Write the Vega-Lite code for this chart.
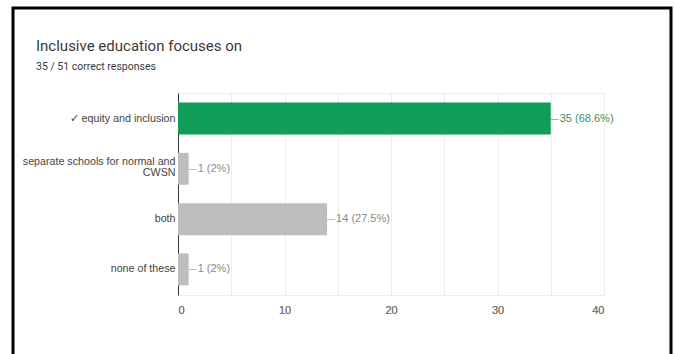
{
  "$schema": "https://vega.github.io/schema/vega-lite/v6.json",
  "width": 658,
  "height": 348,
  "autosize": {"type": "none"},
  "padding": {"left": 13, "top": 8, "right": 4, "bottom": -2},
  "background": "white",
  "config": {
    "view": {"stroke": "black", "strokeWidth": 3},
    "font": "Liberation Sans"
  },
  "title": {
    "text": "Inclusive education focuses on",
    "subtitle": "35 / 51 correct responses",
    "anchor": "start",
    "frame": "group",
    "orient": "top",
    "dx": 23,
    "offset": -64,
    "font": "Roboto",
    "fontSize": 15,
    "fontWeight": "normal",
    "color": "#3a3a3a",
    "subtitleFont": "Roboto",
    "subtitleFontSize": 10.5,
    "subtitleColor": "#3a3a3a",
    "subtitlePadding": 8
  },
  "data": {
    "values": [
      {"option": "✓ equity and inclusion", "count": 35, "label": "35 (68.6%)", "correct": true},
      {"option": "separate schools for normal and CWSN", "count": 1, "label": "1 (2%)", "correct": false},
      {"option": "both", "count": 14, "label": "14 (27.5%)", "correct": false},
      {"option": "none of these", "count": 1, "label": "1 (2%)", "correct": false}
    ]
  },
  "encoding": {
    "y": {
      "field": "option",
      "type": "nominal",
      "sort": null,
      "title": null,
      "scale": {"range": [85, 287], "paddingInner": 0.365, "paddingOuter": 0.19},
      "axis": {
        "orient": "left",
        "offset": -165,
        "ticks": false,
        "domain": true,
        "domainColor": "#333333",
        "domainWidth": 1,
        "labelPadding": 3,
        "labelFontSize": 10.7,
        "labelColor": "#444444",
        "labelLimit": 300,
        "labelLineHeight": 11,
        "labelOffset": {"condition": {"test": "datum.value == 'separate schools for normal and CWSN'", "value": -7}, "value": 0},
        "labelExpr": "datum.label == 'separate schools for normal and CWSN' ? ['separate schools for normal and', 'CWSN'] : datum.label"
      }
    },
    "x": {
      "field": "count",
      "type": "quantitative",
      "title": null,
      "scale": {"domain": [0, 40], "range": [165, 591], "nice": false, "zero": true},
      "axis": {
        "orient": "bottom",
        "offset": -61,
        "values": [0, 5, 10, 15, 20, 25, 30, 35, 40],
        "labelExpr": "datum.value % 10 == 0 ? datum.label : ''",
        "ticks": true,
        "tickSize": -202,
        "tickColor": "#ececec",
        "tickWidth": 1,
        "domain": true,
        "domainColor": "#ececec",
        "grid": false,
        "labelPadding": 211,
        "labelFontSize": 11,
        "labelColor": "#777777"
      }
    }
  },
  "layer": [
    {
      "mark": {"type": "bar"},
      "encoding": {
        "color": {"condition": {"test": "datum.correct", "value": "#0f9d58"}, "value": "#bdbdbd"}
      }
    },
    {
      "mark": {"type": "text", "align": "left", "baseline": "middle", "dx": 0, "dy": 0, "fontSize": 8, "font": "Liberation Sans"},
      "encoding": {
        "x": {
          "field": "count",
          "type": "quantitative",
          "axis": {
            "orient": "top",
            "offset": -85,
            "labels": false,
            "ticks": false,
            "grid": false,
            "domain": true,
            "domainColor": "#ececec",
            "title": null
          }
        },
        "text": {"value": "—"},
        "color": {"condition": {"test": "datum.correct", "value": "#3c8f63"}, "value": "#8a8a8a"}
      }
    },
    {
      "mark": {"type": "text", "align": "left", "baseline": "middle", "dx": 9, "fontSize": 11, "font": "Liberation Sans"},
      "encoding": {
        "text": {"field": "label"},
        "color": {"condition": {"test": "datum.correct", "value": "#3c8f63"}, "value": "#8a8a8a"}
      }
    }
  ]
}
